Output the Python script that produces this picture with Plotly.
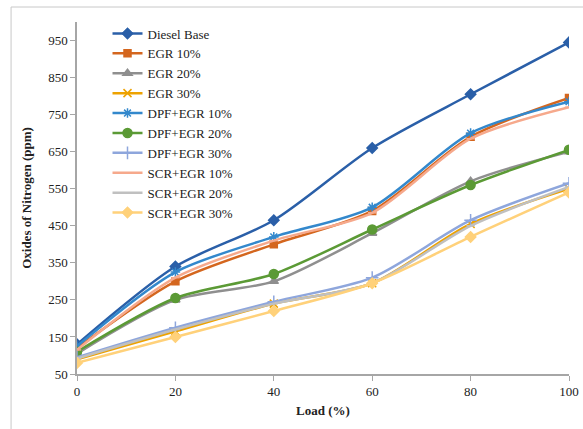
import plotly.graph_objects as go

load = [0, 20, 40, 60, 80, 100]
diesel_base = [130, 340, 465, 660, 805, 945]
egr_10 = [120, 300, 400, 490, 690, 795]
egr_20 = [105, 250, 300, 430, 570, 650]
egr_30 = [90, 165, 240, 295, 455, 550]
dpf_egr_10 = [125, 325, 420, 500, 700, 785]
dpf_egr_20 = [110, 255, 320, 440, 560, 655]
dpf_egr_30 = [95, 175, 245, 310, 465, 565]
scr_egr_10 = [115, 310, 410, 485, 685, 770]
scr_egr_20 = [92, 170, 240, 295, 450, 555]
scr_egr_30 = [80, 150, 220, 295, 420, 540]

series = [
    ("Diesel Base", diesel_base, "#2A5FA8", "diamond", 8),
    ("EGR 10%", egr_10, "#D4661E", "square", 7),
    ("EGR 20%", egr_20, "#8F8F8F", "triangle-up", 8),
    ("EGR 30%", egr_30, "#EDA200", "x-thin-open", 8),
    ("DPF+EGR 10%", dpf_egr_10, "#3388CC", "asterisk-open", 8),
    ("DPF+EGR 20%", dpf_egr_20, "#5B9A35", "circle", 9),
    ("DPF+EGR 30%", dpf_egr_30, "#8EA6DC", "cross-thin-open", 9),
    ("SCR+EGR 10%", scr_egr_10, "#F6A98C", "line-ew-open", 6),
    ("SCR+EGR 20%", scr_egr_20, "#C0C0C0", "line-ew-open", 6),
    ("SCR+EGR 30%", scr_egr_30, "#FFD17A", "diamond", 8),
]

fig = go.Figure()
for name, vals, color, sym, size in series:
    fig.add_trace(go.Scatter(
        x=load, y=vals, name=name, mode="lines+markers",
        line=dict(color=color, width=2.5, shape="spline", smoothing=0.8),
        marker=dict(symbol=sym, size=size, color=color,
                    line=dict(color=color, width=1.5)),
    ))

font_family = "Liberation Serif, Times New Roman, serif"
fig.update_layout(
    width=583, height=429,
    margin=dict(l=77, r=14, t=22, b=55, autoexpand=False),
    paper_bgcolor="white", plot_bgcolor="white",
    font=dict(family=font_family, size=13, color="#222222"),
    showlegend=True,
    legend=dict(x=0.062, y=1.01, xanchor="left", yanchor="top",
                bgcolor="rgba(0,0,0,0)", font=dict(size=13, family=font_family),
                tracegroupgap=0, itemwidth=30),
    xaxis=dict(range=[0, 100], tickvals=load, showgrid=False, zeroline=False,
               automargin=False,
               showline=True, linecolor="#A6A6A6", linewidth=1.5,
               ticks="outside", ticklen=5, tickcolor="#A6A6A6",
               tickfont=dict(size=13, family=font_family),
               title=dict(text="<b>Load (%)</b>", font=dict(size=13, family=font_family), standoff=8)),
    yaxis=dict(range=[50, 1000], tickvals=[50, 150, 250, 350, 450, 550, 650, 750, 850, 950],
               showgrid=False, zeroline=False, automargin=False,
               showline=True, linecolor="#A6A6A6", linewidth=1.5,
               ticks="outside", ticklen=5, tickcolor="#A6A6A6",
               tickfont=dict(size=13, family=font_family),
               title=dict(text="<b>Oxides of Nitrogen (ppm)</b>", font=dict(size=13, family=font_family), standoff=14)),
    shapes=[dict(type="rect", xref="paper", yref="paper",
                 x0=-0.134, x1=1.2, y0=-0.3, y1=1.0426,
                 line=dict(color="#C8C8C8", width=1), layer="below")],
)

fig.write_html("out.html", config={"displayModeBar": False},
               post_script="document.body.style.margin='0';document.body.style.overflow='hidden';")
